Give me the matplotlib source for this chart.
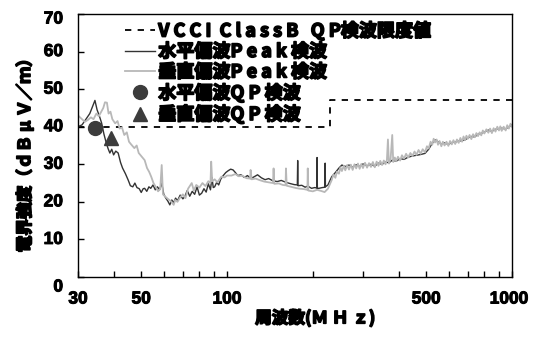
import matplotlib
matplotlib.use("Agg")
import matplotlib.pyplot as plt
import matplotlib.patheffects as pe
from matplotlib.ticker import FixedLocator, NullLocator, NullFormatter
from matplotlib.transforms import offset_copy

# ---------------- data ----------------
limit_freq = [30, 230, 230, 1000]
limit_val = [40, 40, 47, 47]

h_freq = [30, 31, 32, 33, 33.8, 34.4, 35.0, 35.6, 36.3, 37.0, 37.6, 38.2, 38.8, 39.4, 40.0,
          40.7, 41.5, 42.3, 43.0, 44.0, 45.0, 45.8, 46.7, 47.5, 48.3, 49.2, 50.0, 50.8, 51.4,
          52.3, 53.2, 54.0, 55.0, 56.0, 57.0, 58.0, 59.0, 60.0, 61.0, 62.0, 63.0, 64.0, 65.0,
          66.0, 67.0, 68.5, 70.0, 71.1, 72.5, 74.0, 75.5, 77.0, 78.5, 80.0, 81.5, 83.0, 84.5,
          86.0, 87.5, 88.5, 89.5, 90.5, 92.0, 93.5, 95.0, 97.0, 99.0, 101, 103, 105, 107, 109,
          112, 115, 118, 121, 124, 128, 132, 136, 140, 145, 150, 155, 161, 166, 172, 176.5, 177,
          177.5, 183, 188, 192, 198, 203, 206.5, 207, 207.5, 210, 216, 220.5, 221, 221.5, 226,
          233, 240, 247, 253, 260, 268, 276, 284, 292, 300, 310, 320, 330, 340, 350, 360, 370,
          380, 392, 405, 418, 432, 447, 462, 478, 495, 510, 525, 537, 550, 565, 580, 598, 615,
          632, 650, 668, 684, 700, 720, 740, 760, 780, 800, 826, 850, 875, 900, 920, 950, 975, 1000]
h_val = [40.0, 40.5, 42.0, 43.5, 45.5, 47.0, 44.5, 43.0, 41.0, 38.0, 36.0, 34.3, 33.0, 34.0, 32.5,
         33.5, 33.0, 30.5, 29.0, 27.5, 25.8, 24.3, 24.0, 25.0, 23.8, 23.5, 22.5, 23.5, 23.6,
         22.8, 24.0, 23.6, 24.5, 23.2, 24.0, 23.2, 25.0, 22.0, 21.0, 20.2, 19.2, 20.5, 19.8,
         21.0, 20.3, 21.8, 20.8, 21.4, 23.0, 21.5, 22.8, 22.0, 24.0, 21.8, 22.3, 23.5, 22.6,
         24.8, 23.2, 26.5, 23.8, 24.0, 25.2, 24.5, 26.0, 27.0, 27.8, 28.3, 28.7, 28.5, 27.8, 27.0,
         27.2, 26.5, 27.0, 26.2, 26.6, 27.2, 26.4, 25.9, 26.2, 25.6, 25.4, 25.7, 25.2, 24.9, 24.6, 24.5, 31.0,
         24.3, 24.4, 23.9, 24.2, 23.6, 23.8, 23.7, 31.8, 23.6, 23.6, 23.8, 23.9, 30.3, 24.0, 24.5,
         26.7, 27.8, 29.0, 29.8, 29.4, 29.8, 29.2, 29.9, 29.4, 30.1, 29.6, 30.0, 29.5, 30.3, 30.0, 30.6, 30.4,
         31.1, 30.8, 31.5, 31.3, 31.9, 32.2, 32.4, 32.6, 32.9, 34.0, 35.6, 36.5, 36.0, 35.4, 35.7, 35.3, 35.8,
         35.9, 36.2, 36.3, 36.5, 37.0, 37.4, 37.3, 38.0, 38.2, 38.6, 39.1, 38.8, 39.3, 39.5, 39.6, 39.4, 40.0, 40.5]

v_freq = [30, 30.8, 31.7, 32.5, 33.3, 34.0, 34.8, 35.5, 36.2, 36.8, 37.3, 37.9, 38.4, 39.0, 39.6,
          40.5, 41.3, 42.0, 42.8, 43.6, 44.5, 45.3, 46.2, 47.3, 48.2, 49.0, 50.0, 51.4, 52.4, 53.3,
          54.2, 55.2, 56.2, 57.3, 58.3, 59.0, 59.6, 60.7, 62.0, 63.5, 65.0, 65.8, 67.0, 68.5, 70.0,
          71.5, 73.0, 75.2, 76.5, 78.0, 80.0, 82.0, 84.0, 86.0, 87.5, 88.0, 88.7, 90.5, 92.5, 95.5,
          98, 100, 103.7, 107, 110, 113, 117, 120.5, 121, 122, 126, 130, 135, 140, 145, 145.7, 146.5,
          152, 157, 160.5, 161, 162, 168, 174, 180, 186, 191.5, 192, 193, 200, 207, 214, 220, 226,
          233, 236, 240, 243, 247, 250, 253, 257, 260, 264, 268, 272, 276, 280, 284, 288, 292, 296,
          300, 305, 310, 315, 320, 325, 330, 335, 340, 345, 350, 355, 360, 364, 367, 370, 375, 380,
          383, 388, 392, 398, 405, 411, 418, 425, 432, 440, 447, 455, 462, 470, 478, 486, 495, 503,
          510, 518, 525, 531, 537, 544, 550, 557, 565, 572, 580, 589, 598, 606, 615, 623, 632, 641,
          650, 659, 668, 676, 684, 692, 700, 710, 720, 730, 740, 750, 760, 770, 780, 790, 800, 813,
          826, 838, 850, 862, 875, 888, 900, 910, 920, 935, 950, 962, 975, 988, 1000]
v_val = [43.0, 42.2, 41.3, 41.8, 42.5, 42.0, 43.5, 42.8, 44.0, 45.0, 46.5, 46.4, 43.5, 44.0, 42.0,
         40.9, 41.5, 39.5, 39.8, 37.8, 38.5, 36.0, 35.2, 34.3, 35.0, 33.0, 32.2, 31.1, 29.0, 28.0,
         26.7, 25.0, 24.0, 22.8, 23.5, 29.8, 22.0, 21.4, 20.8, 20.2, 19.2, 20.5, 20.0, 21.2, 22.0,
         21.0, 23.5, 25.0, 23.0, 24.5, 23.8, 25.0, 24.2, 25.5, 25.0, 30.7, 25.5, 26.0, 25.2, 26.7,
         26.5, 27.0, 27.0, 27.4, 26.8, 27.0, 26.3, 26.2, 28.5, 26.0, 26.2, 25.8, 25.4, 25.2, 25.0, 28.9, 24.8,
         24.9, 24.5, 24.4, 28.9, 24.3, 24.0, 23.7, 23.5, 23.4, 23.2, 28.9, 23.0, 22.8, 23.2, 22.9, 22.6, 23.5,
         25.8, 27.2, 26.4, 28.0, 27.5, 29.2, 28.2, 29.6, 28.4, 29.8, 28.6, 29.9, 28.5, 30.0, 28.9, 30.2, 28.8, 30.1,
         29.0, 30.4, 29.1, 30.3, 29.3, 30.6, 29.2, 30.7, 29.6, 30.9, 29.8, 31.0, 30.0, 31.2, 36.6, 30.2, 31.4, 37.8,
         30.6, 31.8, 30.8, 32.0, 31.0, 32.4, 31.5, 32.8, 31.8, 33.0, 32.2, 33.4, 32.5, 33.8, 32.8, 34.0, 33.2, 34.8,
         34.2, 36.0, 35.2, 36.8, 35.8, 36.6, 35.2, 36.2, 34.8, 36.0, 35.0, 36.0, 34.9, 36.2, 35.3, 36.4, 35.4, 36.6,
         35.7, 37.0, 36.0, 37.4, 36.4, 37.6, 36.8, 37.8, 36.7, 38.0, 37.2, 38.3, 37.5, 38.5, 37.7, 39.0, 38.2, 39.3,
         38.4, 39.5, 38.3, 39.6, 38.7, 40.0, 39.0, 40.1, 38.9, 40.0, 39.0, 40.4, 39.5, 40.8, 40.0]

qp_h_freq = [34.4]
qp_h_val = [39.6]
qp_v_freq = [39.3]
qp_v_val = [37.1]

x_ticks = [30, 40, 50, 60, 70, 80, 90, 100, 200, 300, 400, 500, 600, 700, 800, 900, 1000]
x_labeled = [30, 50, 100, 500, 1000]
y_ticks = [0, 10, 20, 30, 40, 50, 60, 70]

legend_labels = ["V C C I  C l a s s B   Q P検波限度値", "水平偏波P e a k 検波", "垂直偏波P e a k 検波",
                 "水平偏波Q P 検波", "垂直偏波Q P 検波"]
x_label = "周波数(Ｍ Ｈ ｚ)"
y_label = "電界強度（ｄＢ μ Ｖ／ｍ）"

# ---------------- plot ----------------
jp = ["Noto Sans CJK JP", "DejaVu Sans"]
bold_fx = [pe.withStroke(linewidth=1.2, foreground="black")]
num_fx = [pe.withStroke(linewidth=0.7, foreground="black")]

fig = plt.figure(figsize=(5.37, 3.38), dpi=100)
ax = fig.add_axes([78 / 537, 1 - 277 / 338, 434 / 537, 263 / 338])

l0, = ax.plot(limit_freq, limit_val, color="black", lw=1.3, linestyle=(0, (3.5, 3.5)))
l1, = ax.plot(h_freq, h_val, color="#333333", lw=1.0)
l2, = ax.plot(v_freq, v_val, color="#b8b8b8", lw=1.3)
l3, = ax.plot(qp_h_freq, qp_h_val, "o", color="#3c3c3c", ms=10, linestyle="none")
l4, = ax.plot(qp_v_freq, qp_v_val, "^", color="#3c3c3c", ms=10, linestyle="none")

ax.set_xscale("log")
ax.set_xlim(30, 1000)
ax.set_ylim(0, 70)
ax.xaxis.set_major_locator(FixedLocator(x_ticks))
ax.xaxis.set_major_formatter(NullFormatter())
ax.xaxis.set_minor_locator(NullLocator())
ax.xaxis.set_minor_formatter(NullFormatter())
ax.yaxis.set_major_locator(FixedLocator(y_ticks))
ax.yaxis.set_major_formatter(NullFormatter())
ax.tick_params(direction="in", length=4, width=1, top=False, right=False)
for s in ax.spines.values():
    s.set_linewidth(1.0)

# tick labels as text
num_kw = dict(family="Liberation Sans", fontweight="bold", fontsize=12.5, path_effects=num_fx)
xt = ax.get_xaxis_transform()
for f in x_labeled:
    dx = -3 if f == 1000 else 0
    ax.text(f, 0, str(f), transform=offset_copy(xt, fig=fig, x=dx, y=-22, units="dots"),
            ha="center", va="center", **num_kw)
yt = ax.get_yaxis_transform()
for v in y_ticks:
    dy = {0: -10, 70: -5}.get(v, 0)
    ax.text(0, v, str(v), transform=offset_copy(yt, fig=fig, x=-15, y=dy, units="dots"),
            ha="right", va="center", **num_kw)

lab_kw = dict(family=jp, fontweight="bold", fontsize=12, path_effects=bold_fx)
ax.text(0.546, -0.157, x_label, transform=ax.transAxes, ha="center", va="center", **lab_kw)
ax.text(-0.122, 0.477, y_label, transform=ax.transAxes, ha="center", va="center",
        rotation=90, **lab_kw)

leg = ax.legend([l0, l1, l2, l3, l4], legend_labels, loc="upper left",
                bbox_to_anchor=(0.108, 0.972), frameon=False,
                prop={"family": jp, "weight": "bold", "size": 13},
                handlelength=1.65, handletextpad=0.2, labelspacing=0.08,
                borderaxespad=0.0, borderpad=0.0, markerscale=1.0)
for t in leg.get_texts():
    t.set_path_effects(bold_fx)

fig.savefig("out.png", dpi=100)
